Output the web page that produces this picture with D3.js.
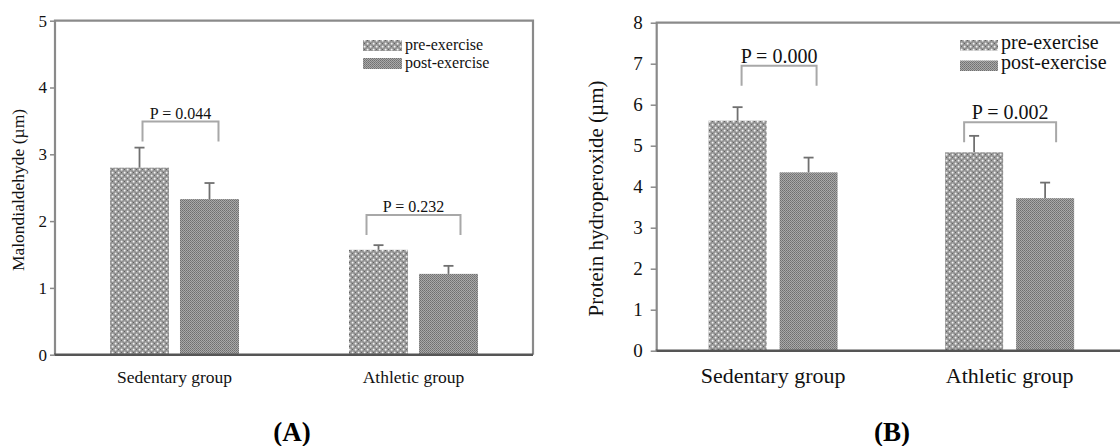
<!DOCTYPE html>
<html>
<head>
<meta charset="utf-8">
<script src="https://cdn.jsdelivr.net/npm/d3@7"></script>
<style>
  body { margin: 0; background: #fff; }
  svg { display: block; }
</style>
</head>
<body>
<svg id="chart" width="1120" height="446"></svg>
<script>
// data
const groups = ["Sedentary group", "Athletic group"];
const phases = ["pre-exercise", "post-exercise"];

const mdaMean = [[2.80, 2.33], [1.57, 1.21]];
const mdaErr = [[0.30, 0.24], [0.07, 0.12]];
const mdaPLabels = ["P = 0.044", "P = 0.232"];
const mdaBracket = [3.49, 2.09];
const mdaTicks = [0, 1, 2, 3, 4, 5];

const phMean = [[5.61, 4.35], [4.84, 3.72]];
const phErr = [[0.33, 0.36], [0.40, 0.38]];
const phPLabels = ["P = 0.000", "P = 0.002"];
const phBracket = [6.95, 5.57];
const phTicks = [0, 1, 2, 3, 4, 5, 6, 7, 8];

const serif = "'Liberation Serif', 'Times New Roman', serif";

const svg = d3.select("#chart");
svg.append("rect").attr("width", 1120).attr("height", 446).attr("fill", "#fff");

// fill patterns for the two phases
const defs = svg.append("defs");
const pre = defs.append("pattern")
    .attr("id", "pat-pre")
    .attr("patternUnits", "userSpaceOnUse")
    .attr("width", 6).attr("height", 6);
pre.append("rect").attr("width", 6).attr("height", 6).attr("fill", "#858585");
pre.append("rect").attr("x", 0.6).attr("y", 0.6).attr("width", 2).attr("height", 2).attr("fill", "#f4f4f4");
pre.append("rect").attr("x", 3.6).attr("y", 3.6).attr("width", 2).attr("height", 2).attr("fill", "#f4f4f4");
pre.append("rect").attr("x", 3.6).attr("y", 0.6).attr("width", 2).attr("height", 2).attr("fill", "#b4b4b4");
pre.append("rect").attr("x", 0.6).attr("y", 3.6).attr("width", 2).attr("height", 2).attr("fill", "#b4b4b4");
pre.append("rect").attr("x", 4.1).attr("y", 1.1).attr("width", 1).attr("height", 1).attr("fill", "#505050");
pre.append("rect").attr("x", 1.1).attr("y", 4.1).attr("width", 1).attr("height", 1).attr("fill", "#505050");

const post = defs.append("pattern")
    .attr("id", "pat-post")
    .attr("patternUnits", "userSpaceOnUse")
    .attr("width", 2).attr("height", 2);
post.append("rect").attr("width", 2).attr("height", 2).attr("fill", "#a9a9a9");
post.append("rect").attr("width", 1).attr("height", 1).attr("fill", "#6f6f6f");
post.append("rect").attr("x", 1).attr("y", 1).attr("width", 1).attr("height", 1).attr("fill", "#7c7c7c");

const fills = ["url(#pat-pre)", "url(#pat-post)"];

function drawPanel(p) {
    const g = svg.append("g");

    const x = d3.scaleBand()
        .domain(groups)
        .range([p.left, p.right])
        .paddingInner(0.4)
        .paddingOuter(p.outerPad);
    const xi = d3.scaleBand()
        .domain(phases)
        .range([0, x.bandwidth()])
        .paddingInner(p.innerPad)
        .paddingOuter(p.innerOuter);
    const y = d3.scaleLinear().domain([0, p.max]).range([p.bottom, p.top]);

    // frame (left, top, right)
    g.append("path")
        .attr("d", `M${p.left},${p.bottom}V${p.top}H${p.frameRight}V${p.bottom}`)
        .attr("fill", "none")
        .attr("stroke", "#8a8a8a")
        .attr("stroke-width", 2.2);

    // bars
    const bars = [];
    groups.forEach((grp, gi) => {
        phases.forEach((ph, pi) => {
            bars.push({grp, ph, pi, v: p.mean[gi][pi], e: p.err[gi][pi]});
        });
    });

    g.append("g")
        .selectAll("rect")
        .data(bars)
        .join("rect")
        .attr("x", d => x(d.grp) + xi(d.ph))
        .attr("y", d => y(d.v))
        .attr("width", xi.bandwidth())
        .attr("height", d => y(0) - y(d.v))
        .attr("fill", d => fills[d.pi]);

    // error bars (upper half only)
    const eb = g.append("g").attr("stroke", "#707070").attr("stroke-width", 1.8);
    eb.selectAll("line.stem")
        .data(bars)
        .join("line")
        .attr("class", "stem")
        .attr("x1", d => x(d.grp) + xi(d.ph) + xi.bandwidth() / 2)
        .attr("x2", d => x(d.grp) + xi(d.ph) + xi.bandwidth() / 2)
        .attr("y1", d => y(d.v))
        .attr("y2", d => y(d.v + d.e));
    eb.selectAll("line.cap")
        .data(bars)
        .join("line")
        .attr("class", "cap")
        .attr("x1", d => x(d.grp) + xi(d.ph) + xi.bandwidth() / 2 - 5)
        .attr("x2", d => x(d.grp) + xi(d.ph) + xi.bandwidth() / 2 + 5)
        .attr("y1", d => y(d.v + d.e))
        .attr("y2", d => y(d.v + d.e));

    // bottom axis line
    g.append("line")
        .attr("x1", p.left - 1).attr("x2", p.frameRight)
        .attr("y1", p.bottom).attr("y2", p.bottom)
        .attr("stroke", "#555")
        .attr("stroke-width", 2.5);

    // y axis ticks
    const ax = g.append("g")
        .attr("transform", `translate(${p.left},0)`)
        .call(d3.axisLeft(y)
            .tickValues(p.ticks)
            .tickSize(p.tickLen)
            .tickPadding(p.tickPad)
            .tickFormat(d3.format("d")));
    ax.select(".domain").remove();
    ax.selectAll(".tick line").attr("stroke", "#8a8a8a").attr("stroke-width", 1.5);
    ax.selectAll(".tick text")
        .attr("font-family", serif)
        .attr("font-size", p.tickFont)
        .attr("fill", "#111");

    // significance brackets
    groups.forEach((grp, gi) => {
        const xl = x(grp) + xi(phases[0]) + xi.bandwidth() / 2 + p.bracketPad[gi][0];
        const xr = x(grp) + xi(phases[1]) + xi.bandwidth() / 2 + p.bracketPad[gi][1];
        const yb = y(p.bracket[gi]);
        g.append("path")
            .attr("d", `M${xl},${yb + 20}V${yb}H${xr}V${yb + 20}`)
            .attr("fill", "none")
            .attr("stroke", "#a8a8a8")
            .attr("stroke-width", 2);
        g.append("text")
            .attr("x", (xl + xr) / 2)
            .attr("y", yb - 3)
            .attr("text-anchor", "middle")
            .attr("font-family", serif)
            .attr("font-size", p.pFont)
            .attr("fill", "#111")
            .text(p.pLabels[gi]);
    });

    // category labels
    g.append("g")
        .selectAll("text")
        .data(groups)
        .join("text")
        .attr("x", d => x(d) + x.bandwidth() / 2)
        .attr("y", p.catY)
        .attr("text-anchor", "middle")
        .attr("font-family", serif)
        .attr("font-size", p.catFont)
        .attr("fill", "#111")
        .text(d => d);

    // y axis title
    g.append("text")
        .attr("transform", `translate(${p.ylabX},${p.ylabY}) rotate(-90)`)
        .attr("text-anchor", "middle")
        .attr("font-family", serif)
        .attr("font-size", p.ylabFont)
        .attr("fill", "#111")
        .text(p.ylab);

    // legend
    const leg = g.append("g");
    phases.forEach((ph, i) => {
        leg.append("rect")
            .attr("x", p.legX)
            .attr("y", p.legY + i * p.legGap)
            .attr("width", p.legW)
            .attr("height", p.legH)
            .attr("fill", fills[i]);
        leg.append("text")
            .attr("x", p.legX + p.legW + 3)
            .attr("y", p.legY + i * p.legGap + p.legTextDy)
            .attr("font-family", serif)
            .attr("font-size", p.legFont)
            .attr("fill", "#111")
            .text(ph);
    });

    // panel letter
    g.append("text")
        .attr("x", p.tagX)
        .attr("y", 441)
        .attr("text-anchor", "middle")
        .attr("font-family", serif)
        .attr("font-weight", "bold")
        .attr("font-size", 27)
        .attr("fill", "#000")
        .text(p.tag);
}

drawPanel({
    mean: mdaMean, err: mdaErr, pLabels: mdaPLabels, bracket: mdaBracket, ticks: mdaTicks,
    max: 5, ylab: "Malondialdehyde (\u00b5m)", tag: "(A)",
    left: 55, right: 533, frameRight: 533, top: 20.7, bottom: 354.7,
    outerPad: 0.2, innerPad: 0.157, innerOuter: 0.103,
    bracketPad: [[3, 9], [-12, 12]],
    tickLen: 5, tickPad: 3, tickFont: 17,
    catY: 383, catFont: 17.5, pFont: 16,
    ylabX: 24, ylabY: 190, ylabFont: 17.5,
    legX: 363, legY: 40, legGap: 18, legW: 39, legH: 11, legTextDy: 10, legFont: 16,
    tagX: 292
});

drawPanel({
    mean: phMean, err: phErr, pLabels: phPLabels, bracket: phBracket, ticks: phTicks,
    max: 8, ylab: "Protein hydroperoxide (\u00b5m)", tag: "(B)",
    left: 656.7, right: 1126, frameRight: 1132, top: 22.7, bottom: 350.7,
    outerPad: 0.192, innerPad: 0.183, innerOuter: 0.091,
    bracketPad: [[4, 8], [-10, 11]],
    tickLen: 6, tickPad: 8, tickFont: 19,
    catY: 383, catFont: 22, pFont: 20,
    ylabX: 603, ylabY: 198.5, ylabFont: 21,
    legX: 960, legY: 40, legGap: 20.5, legW: 38, legH: 10.5, legTextDy: 8.5, legFont: 20,
    tagX: 892
});
</script>
</body>
</html>
